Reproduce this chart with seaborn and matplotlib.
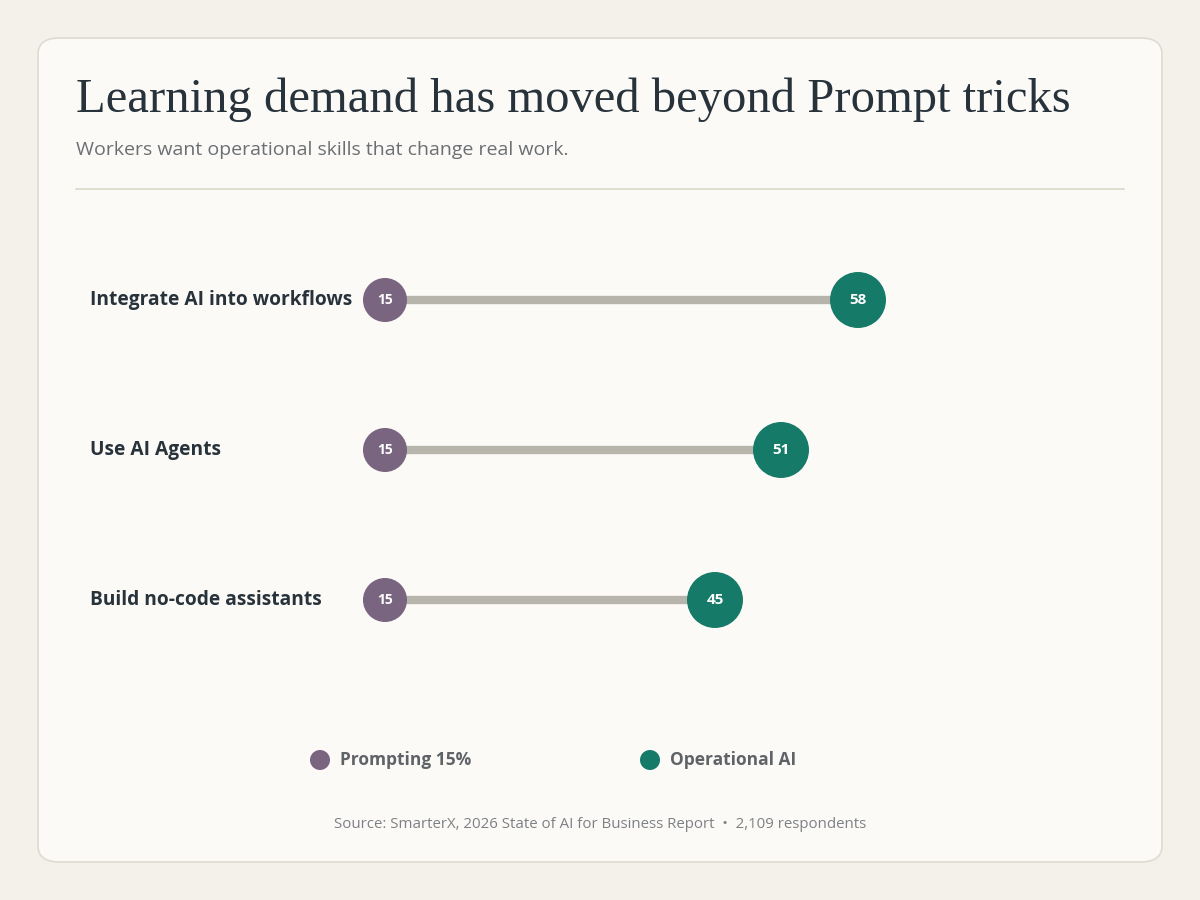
import matplotlib
matplotlib.use("Agg")
import matplotlib.pyplot as plt
from matplotlib.patches import FancyBboxPatch, Ellipse
import seaborn as sns
import pandas as pd

categories = ["Integrate AI into workflows", "Use AI Agents", "Build no-code assistants"]
prompting = [15, 15, 15]
operational = [58, 51, 45]
legend_labels = ["Prompting 15%", "Operational AI"]
title = "Learning demand has moved beyond Prompt tricks"
subtitle = "Workers want operational skills that change real work."
source = "Source: SmarterX, 2026 State of AI for Business Report  \u2022  2,109 respondents"

PURPLE = "#7a6580"
GREEN = "#157a68"
GREY = "#b7b5ab"
DARK = "#27323a"
W, H = 1200, 900

sns.set_theme(style="white")
plt.rcParams['font.family'] = ['Open Sans', 'DejaVu Sans']

fig = plt.figure(figsize=(12, 9), dpi=100)
fig.patch.set_facecolor("#f4f1ea")

def fx(px): return px / W
def fy(py): return 1 - py / H

card = FancyBboxPatch((fx(38), fy(862)), fx(1124), 824 / H,
                      boxstyle="round,pad=0,rounding_size=0.018",
                      transform=fig.transFigure, facecolor="#fbfaf7",
                      edgecolor="#dedbd0", linewidth=1.2, zorder=-10)
fig.patches.append(card)

fig.text(fx(76), fy(100), title, fontsize=35, family=['Liberation Serif', 'DejaVu Serif'],
         color=DARK, va="center", ha="left")
fig.text(fx(76), fy(150), subtitle, fontsize=14, color="#6b6f73", va="center", ha="left")
fig.add_artist(plt.Line2D([fx(76), fx(1124)], [fy(189), fy(189)],
                          transform=fig.transFigure, color="#dcd9cc", lw=1.3))

ax = fig.add_axes([fx(220), fy(675), (1100 - 220) / W, (675 - 225) / H])
ax.set_zorder(5)
ax.set_facecolor("none")

ys = list(range(len(categories)))
for y, p, o in zip(ys, prompting, operational):
    ax.plot([p, o], [y, y], color=GREY, lw=6, solid_capstyle="butt", zorder=1)

df_p = pd.DataFrame({"x": prompting, "y": ys})
df_o = pd.DataFrame({"x": operational, "y": ys})
sns.scatterplot(data=df_p, x="x", y="y", s=1005, color=PURPLE, edgecolor="none", ax=ax, zorder=3)
sns.scatterplot(data=df_o, x="x", y="y", s=1625, color=GREEN, edgecolor="none", ax=ax, zorder=3)
ax.set_xlim(0, 80)
ax.set_ylim(2.5, -0.5)
ax.axis("off")

for y, p, o, c in zip(ys, prompting, operational, categories):
    ax.text(p, y, f"{p}", color="white", fontsize=10, fontweight="bold", ha="center", va="center", zorder=4)
    ax.text(o, y, f"{o}", color="white", fontsize=11, fontweight="bold", ha="center", va="center", zorder=4)
    fig.text(fx(90), fy(300 + 150 * y), c, fontsize=13.8, fontweight="bold", color=DARK,
             ha="left", va="center")

for (cx, col, lab) in [(320, PURPLE, legend_labels[0]), (650, GREEN, legend_labels[1])]:
    fig.add_artist(Ellipse((fx(cx), fy(760)), 20 / W, 20 / H, transform=fig.transFigure,
                           facecolor=col, edgecolor="none"))
    fig.text(fx(cx + 20), fy(760), lab, fontsize=12.5, fontweight="bold", color="#5f6368",
             ha="left", va="center")

fig.text(fx(600), fy(825), source, fontsize=10.8, color="#7d8084", ha="center", va="center")

fig.savefig("out.png", dpi=100, facecolor=fig.get_facecolor())
